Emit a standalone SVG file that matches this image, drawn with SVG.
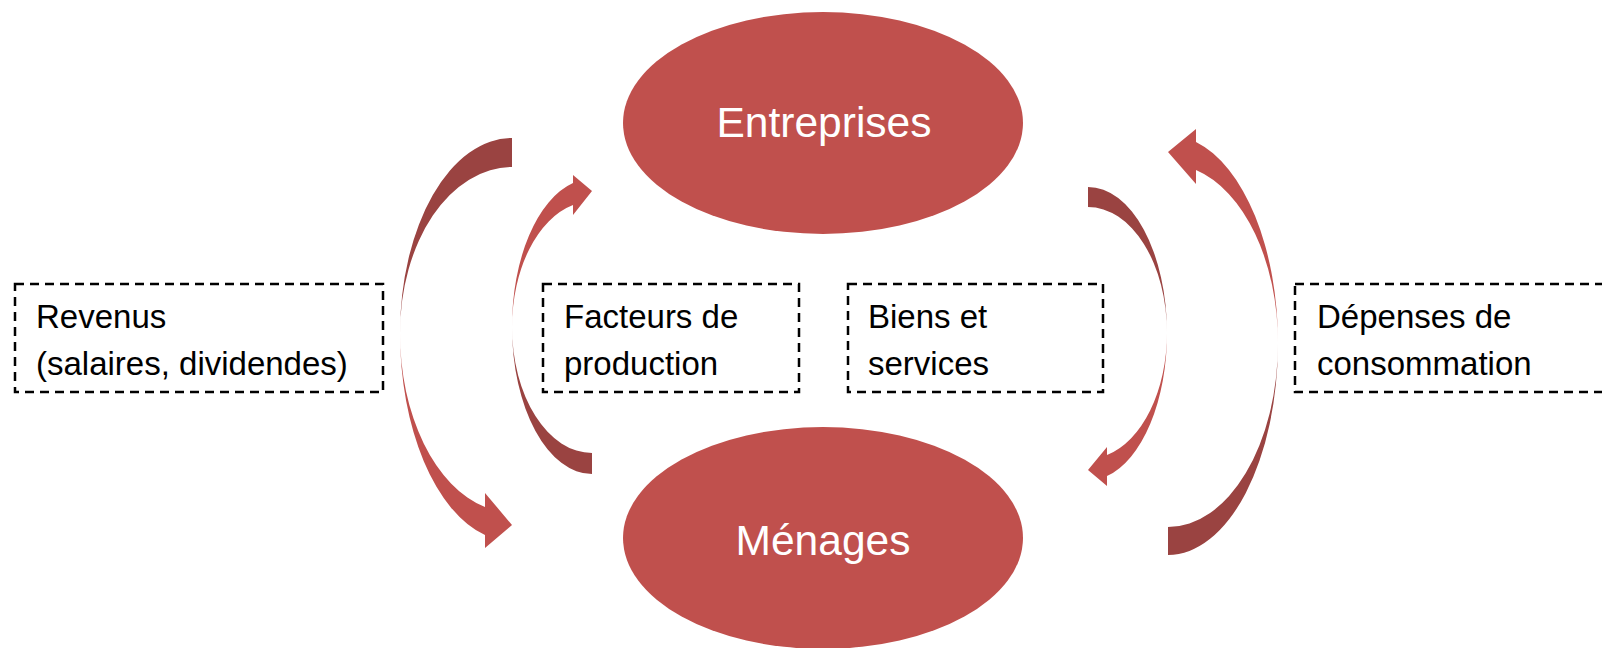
<svg xmlns="http://www.w3.org/2000/svg" width="1602" height="648" viewBox="0 0 1602 648">
<style>
.ell{fill:#C0504D;}
.big{font-family:"Liberation Sans",Arial,sans-serif;font-size:42.5px;fill:#FFFFFF;text-anchor:middle;}
.box{fill:none;stroke:#000000;stroke-width:2.5;stroke-dasharray:9 6;}
.lbl{font-family:"Liberation Sans",Arial,sans-serif;font-size:33px;fill:#000000;}
.back{fill:#9A4341;}
.front{fill:#C0504D;}
</style>
<rect width="1602" height="648" fill="#FFFFFF"/>
<g id="connectors">
  <g id="arrow-revenus">
    <path class="back" d="M512,138 A112 195 0 0 0 400 333 A112 166 0 0 1 512 167 Z"/>
    <path class="front" d="M400,333 A112 208 0 0 0 485 535 L485 548 L512 525 L485 493 L485 507 A112 179 0 0 1 400 333 Z"/>
  </g>
  <g id="arrow-facteurs">
    <path class="back" d="M592,474 A80 147 0 0 1 512 327 A80 126 0 0 0 592 453 Z"/>
    <path class="front" d="M512,327 A80 148 0 0 1 573 183 L573 175 L592 191 L573 215 L573 205 A80 126 0 0 0 512 327 Z"/>
  </g>
  <g id="arrow-biens">
    <path class="back" d="M1088,187 A79 146 0 0 1 1167 333 A79 126 0 0 0 1088 207 Z"/>
    <path class="front" d="M1167,333 A79 147 0 0 1 1107 476 L1107 486 L1088 470 L1107 447 L1107 455 A79 126 0 0 0 1167 333 Z"/>
  </g>
  <g id="arrow-depenses">
    <path class="back" d="M1168,555 A110 212 0 0 0 1278 343 A110 184 0 0 1 1168 527 Z"/>
    <path class="front" d="M1278,343 A110 208 0 0 0 1196 142 L1196 129 L1168 152 L1196 184 L1196 170 A110 179 0 0 1 1278 343 Z"/>
  </g>
</g>
<g id="node-entreprises">
  <ellipse class="ell" cx="823" cy="123" rx="200" ry="111"/>
  <text class="big" x="824" y="137">Entreprises</text>
</g>
<g id="node-menages">
  <ellipse class="ell" cx="823" cy="538" rx="200" ry="111"/>
  <text class="big" x="823" y="555">Ménages</text>
</g>
<g id="label-revenus">
  <rect class="box" x="15" y="284" width="368" height="108"/>
  <text class="lbl" x="36" y="328">Revenus</text>
  <text class="lbl" x="36" y="375">(salaires, dividendes)</text>
</g>
<g id="label-facteurs">
  <rect class="box" x="543" y="284" width="256" height="108"/>
  <text class="lbl" x="564" y="328">Facteurs de</text>
  <text class="lbl" x="564" y="375">production</text>
</g>
<g id="label-biens">
  <rect class="box" x="848" y="284" width="255" height="108"/>
  <text class="lbl" x="868" y="328">Biens et</text>
  <text class="lbl" x="868" y="375">services</text>
</g>
<g id="label-depenses">
  <rect class="box" x="1295" y="284" width="340" height="108"/>
  <text class="lbl" x="1317" y="328">Dépenses de</text>
  <text class="lbl" x="1317" y="375">consommation</text>
</g>
</svg>
